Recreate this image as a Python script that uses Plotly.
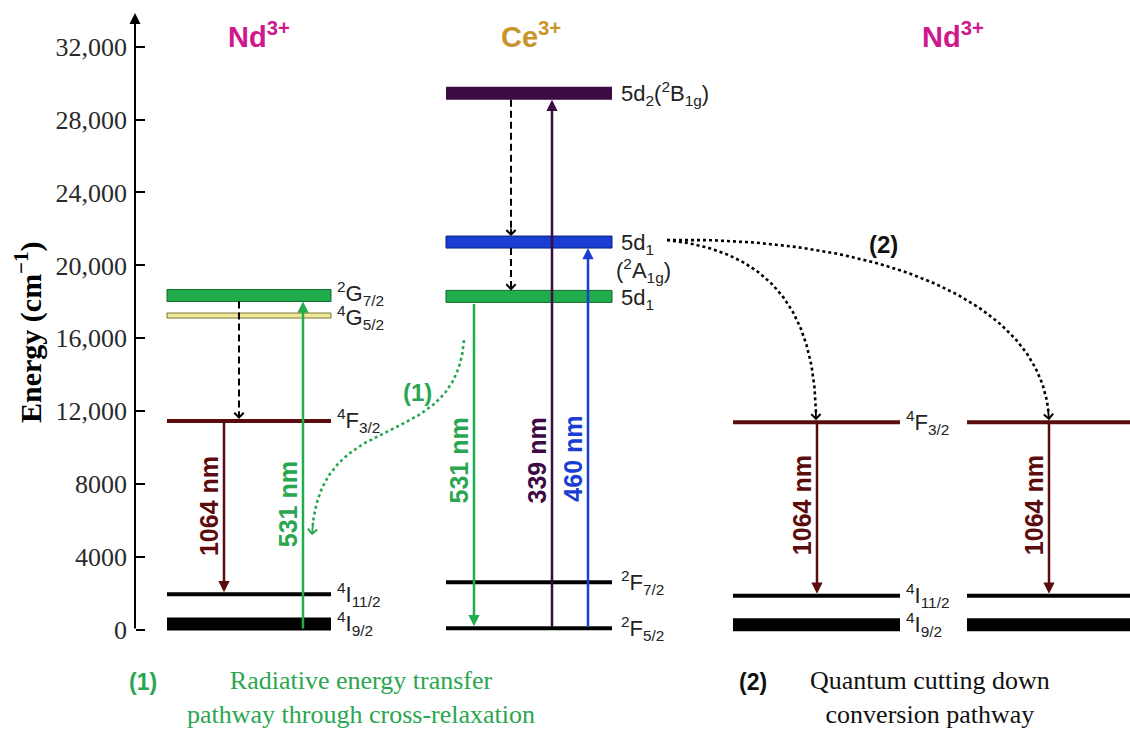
import plotly.graph_objects as go

W, H = 1130, 731
Y_MIN, Y_MAX = -5540.0, 34558.0
U = (Y_MAX - Y_MIN) / H          # cm-1 per screen pixel (used only for bar thickness / offsets)

# ---------------- data ----------------
tick_vals = [0, 4000, 8000, 12000, 16000, 20000, 24000, 28000, 32000]
tick_text = ["0", "4000", "8000", "12,000", "16,000", "20,000", "24,000", "28,000", "32,000"]
axis_top = 33850

nd_names = ["<sup>2</sup>G<sub>7/2</sub>", "<sup>4</sup>G<sub>5/2</sub>",
            "<sup>4</sup>F<sub>3/2</sub>", "<sup>4</sup>I<sub>11/2</sub>",
            "<sup>4</sup>I<sub>9/2</sub>"]
nd_energy = [18350, 17250, 11470, 1960, 330]          # cm-1

ce_names = ["5d<sub>2</sub>(<sup>2</sup>B<sub>1g</sub>)", "5d<sub>1</sub>", "5d<sub>1</sub>",
            "<sup>2</sup>F<sub>7/2</sub>", "<sup>2</sup>F<sub>5/2</sub>"]
ce_energy = [29440, 21280, 18300, 2620, 100]          # cm-1

qc_names = ["<sup>4</sup>F<sub>3/2</sub>", "<sup>4</sup>I<sub>11/2</sub>", "<sup>4</sup>I<sub>9/2</sub>"]
qc_energy = [11400, 1880, 290]                        # cm-1

wavelengths = [1064, 531, 531, 339, 460, 1064, 1064]  # nm
label_energy = [6800, 6900, 9300, 9300, 9400, 6850, 6850]

ions = ["Nd<sup>3+</sup>", "Ce<sup>3+</sup>", "Nd<sup>3+</sup>"]

# ---------------- styles ----------------
GREEN, GREEN_D = "#21ad4b", "#0f6a2b"
YELLOW, YELLOW_D = "#eee89a", "#7a7530"
DARKRED = "#5b0c0c"
PURPLE = "#3d0b44"
BLUE, BLUE_D = "#1b3ed2", "#0b2080"
MAGENTA = "#d0178c"
GOLD = "#c8952a"
TGREEN = "#2aa650"
LBL = "#222222"
SANS = "Liberation Sans, Arial"
SERIF = "Liberation Serif, Times New Roman"

nd_thick = [12, 5, 4, 4, 13]
nd_fill = [GREEN, YELLOW, DARKRED, "black", "black"]
nd_edge = [GREEN_D, YELLOW_D, None, None, None]
ce_thick = [13, 12, 12, 4, 4]
ce_fill = [PURPLE, BLUE, GREEN, "black", "black"]
ce_edge = [None, BLUE_D, GREEN_D, None, None]
qc_thick = [4, 4, 13]
qc_fill = [DARKRED, "black", "black"]

COL_ND = (167, 331)
COL_CE = (446, 612)
COL_QC = [(733, 900), (967, 1130)]

fig = go.Figure()
shapes, ann = [], []


def top(E, t):
    return E + t / 2 * U


def bot(E, t):
    return E - t / 2 * U


def add_level(col, E, t, fill, edge):
    shapes.append(dict(type="rect", xref="x", yref="y", x0=col[0], x1=col[1],
                       y0=bot(E, t), y1=top(E, t), fillcolor=fill, layer="below",
                       line=dict(color=edge if edge else fill, width=1 if edge else 0)))


def level_label(x, E, text, yshift=0):
    ann.append(dict(x=x, y=E, xref="x", yref="y", text=text, showarrow=False,
                    xanchor="left", yanchor="middle", yshift=yshift,
                    font=dict(family=SANS, size=22, color=LBL)))


def arrow(x, y_from, y_to, color, width=2.5):
    ann.append(dict(x=x, y=y_to, ax=x, ay=y_from, xref="x", yref="y", axref="x", ayref="y",
                    text="", showarrow=True, arrowhead=2, arrowsize=0.9, arrowwidth=width,
                    arrowcolor=color, standoff=0))


def chevron(x, y, px, py, color, width=1.8):
    ann.append(dict(x=x, y=y, ax=px, ay=py, xref="x", yref="y", axref="x", ayref="y",
                    text="", showarrow=True, arrowhead=4, arrowsize=1.0, arrowwidth=width,
                    arrowcolor=color, standoff=0))


def dashed(x, y_from, y_to):
    sgn = 1 if y_to < y_from else -1
    fig.add_trace(go.Scatter(x=[x, x], y=[y_from, y_to + sgn * 3 * U], mode="lines",
                             line=dict(color="black", width=2, dash="7px,4px"),
                             hoverinfo="skip", showlegend=False))
    chevron(x, y_to, x, y_to + sgn * 9 * U, "black")


def nm_label(x, E, nm, color):
    ann.append(dict(x=x, y=E, xref="x", yref="y", xshift=-15, text=f"{nm} nm",
                    textangle=-90, showarrow=False, xanchor="center", yanchor="middle",
                    font=dict(family=SANS, size=25, color=color, weight="bold")))


def bezier(p0, p1, p2, p3, n=80):
    xs, ys = [], []
    for i in range(n + 1):
        t = i / n
        a, b, c, d = (1 - t) ** 3, 3 * t * (1 - t) ** 2, 3 * t * t * (1 - t), t ** 3
        xs.append(a * p0[0] + b * p1[0] + c * p2[0] + d * p3[0])
        ys.append(a * p0[1] + b * p1[1] + c * p2[1] + d * p3[1])
    return xs, ys


def dotted_curve(p0, p1, p2, p3, color):
    xs, ys = bezier(p0, p1, p2, p3)
    k = len(xs) - 4
    fig.add_trace(go.Scatter(x=xs[:k + 2], y=ys[:k + 2], mode="lines",
                             line=dict(color=color, width=2.6, dash="dot"),
                             hoverinfo="skip", showlegend=False))
    chevron(xs[-1], ys[-1], xs[k], ys[k], color, 1.8)


def caption(xc, yc, text, size, color, family, bold=False):
    ann.append(dict(x=xc / W, y=1 - yc / H, xref="paper", yref="paper", text=text,
                    showarrow=False, xanchor="center", yanchor="middle", align="center",
                    font=dict(family=family, size=size, color=color,
                              weight="bold" if bold else "normal")))


# ---------------- levels ----------------
for E, t, f, e in zip(nd_energy, nd_thick, nd_fill, nd_edge):
    add_level(COL_ND, E, t, f, e)
for E, t, f, e in zip(ce_energy, ce_thick, ce_fill, ce_edge):
    add_level(COL_CE, E, t, f, e)
for col in COL_QC:
    for E, t, f in zip(qc_energy, qc_thick, qc_fill):
        add_level(col, E, t, f, None)

# level labels
nd_label_shift = [2, -2, 0, 0, 0]
for name, E, ys in zip(nd_names, nd_energy, nd_label_shift):
    level_label(335, E, name, yshift=ys)
level_label(619, ce_energy[0], ce_names[0])
level_label(619, ce_energy[1], ce_names[1], yshift=-2)
level_label(614, ce_energy[1], "(<sup>2</sup>A<sub>1g</sub>)", yshift=-28)
level_label(619, ce_energy[2], ce_names[2], yshift=-3)
level_label(619, ce_energy[3], ce_names[3])
level_label(619, ce_energy[4], ce_names[4])
for name, E in zip(qc_names, qc_energy):
    level_label(904, E, name)

# ---------------- transitions ----------------
# Nd (left)
dashed(239, bot(nd_energy[0], nd_thick[0]), top(nd_energy[2], nd_thick[2]))
arrow(224, nd_energy[2], top(nd_energy[3], nd_thick[3]), DARKRED)
nm_label(224, label_energy[0], wavelengths[0], DARKRED)
arrow(303, 0, bot(nd_energy[0], nd_thick[0]), GREEN)
nm_label(303, label_energy[1], wavelengths[1], TGREEN)

# Ce
dashed(511, bot(ce_energy[0], ce_thick[0]), top(ce_energy[1], ce_thick[1]))
dashed(511, bot(ce_energy[1], ce_thick[1]), top(ce_energy[2], ce_thick[2]))
arrow(474, bot(ce_energy[2], ce_thick[2]), top(ce_energy[4], ce_thick[4]), GREEN)
nm_label(474, label_energy[2], wavelengths[2], TGREEN)
arrow(552, ce_energy[4], bot(ce_energy[0], ce_thick[0]), PURPLE)
nm_label(552, label_energy[3], wavelengths[3], PURPLE)
arrow(588, ce_energy[4], bot(ce_energy[1], ce_thick[1]), BLUE)
nm_label(588, label_energy[4], wavelengths[4], BLUE)

# Nd (quantum cutting)
for xa, lbl_i in [(817, 5), (1049, 6)]:
    arrow(xa, qc_energy[0], top(qc_energy[1], qc_thick[1]), DARKRED)
    nm_label(xa, label_energy[lbl_i], wavelengths[lbl_i], DARKRED)

# energy-transfer pathways
dotted_curve((464, 15900), (455, 9500), (318, 12500), (312, 5200), TGREEN)
dotted_curve((667, 21390), (770, 20800), (816, 17500), (816, top(qc_energy[0], qc_thick[0])), "black")
dotted_curve((667, 21390), (880, 21600), (1045, 18000), (1049, top(qc_energy[0], qc_thick[0])), "black")

ann.append(dict(x=417, y=13050, xref="x", yref="y", text="(1)", showarrow=False,
                font=dict(family=SANS, size=24, color=TGREEN, weight="bold")))
ann.append(dict(x=883, y=21120, xref="x", yref="y", text="(2)", showarrow=False,
                font=dict(family=SANS, size=24, color="#111", weight="bold")))

# energy axis line with arrow
ann.append(dict(x=135, y=axis_top, ax=135, ay=0, xref="x", yref="y", axref="x", ayref="y",
                text="", showarrow=True, arrowhead=2, arrowsize=1.1, arrowwidth=2,
                arrowcolor="black", standoff=0))

# ion titles
for xc, txt, col in zip([259, 531, 953], ions, [MAGENTA, GOLD, MAGENTA]):
    caption(xc, 35, txt, 29, col, SANS, bold=True)

# y title
ann.append(dict(x=28 / W, y=1 - 332 / H, xref="paper", yref="paper",
                text="Energy (cm<sup>\u22121</sup>)", textangle=-90, showarrow=False,
                xanchor="center", yanchor="middle",
                font=dict(family=SERIF, size=30, color="black", weight="bold")))

# captions
caption(143, 682, "(1)", 23, TGREEN, SANS, bold=True)
caption(361, 697, "Radiative energy transfer<br>pathway through cross-relaxation", 26, TGREEN, SERIF)
caption(753, 682, "(2)", 23, "#111", SANS, bold=True)
caption(930, 697, "Quantum cutting down<br>conversion pathway", 26, "#111", SERIF)

fig.update_layout(
    width=W, height=H, margin=dict(l=0, r=0, t=0, b=0),
    paper_bgcolor="white", plot_bgcolor="white", showlegend=False,
    shapes=shapes, annotations=ann,
    xaxis=dict(range=[0, W], visible=False, domain=[0, 1], fixedrange=True),
    yaxis=dict(range=[Y_MIN, Y_MAX], anchor="free", position=135 / W,
               tickvals=tick_vals, ticktext=tick_text, ticks="inside", ticklen=9,
               tickwidth=2, tickcolor="black", showline=False, showgrid=False,
               zeroline=False, ticklabelstandoff=8, fixedrange=True,
               tickfont=dict(family=SERIF, size=26, color="#2a2a2a")),
)

fig.write_html("out.html", config={"displayModeBar": False},
               post_script="document.body.style.margin='0px';document.body.style.overflow='hidden';")
